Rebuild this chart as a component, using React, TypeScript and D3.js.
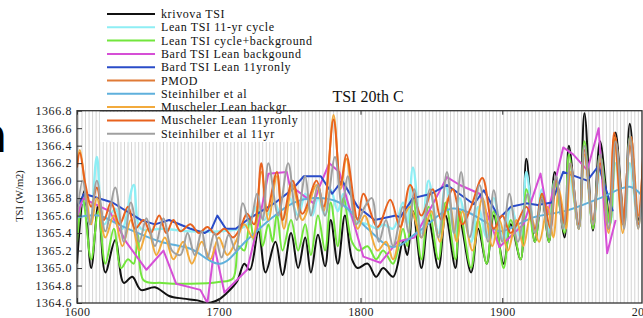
import React, { useEffect, useRef } from "react";
import * as d3 from "d3";

// [year, TSI W/m2]
const krivova: [number, number][] = [
  [1600, 1365.05], [1605, 1365.88], [1610, 1365.0], [1615, 1365.72], [1620, 1364.95], [1627, 1365.32],
  [1633, 1364.83], [1639, 1364.9], [1645, 1364.75], [1655, 1364.78], [1665, 1364.68], [1675, 1364.65],
  [1685, 1364.63], [1692, 1364.6], [1700, 1364.64], [1706, 1364.72], [1713, 1364.85], [1718, 1365.05],
  [1722, 1364.98], [1728, 1365.42], [1733, 1364.95], [1740, 1365.3], [1745, 1364.92], [1751, 1365.4],
  [1756, 1365.0], [1761, 1365.35], [1765, 1364.95], [1770, 1365.38], [1775, 1365.02], [1779, 1365.55],
  [1784, 1365.05], [1789, 1365.6], [1794, 1365.1], [1798, 1365.0], [1805, 1365.05], [1811, 1364.9],
  [1816, 1365.0], [1823, 1364.9], [1830, 1365.3], [1833, 1365.15], [1837, 1365.65], [1843, 1365.0],
  [1848, 1365.55], [1855, 1365.0], [1860, 1365.6], [1867, 1365.0], [1870, 1365.55], [1878, 1364.95],
  [1883, 1365.45], [1889, 1365.05], [1894, 1365.6], [1901, 1365.05], [1906, 1365.5], [1913, 1365.1],
  [1917, 1366.25], [1923, 1365.3], [1928, 1365.8], [1933, 1365.3], [1937, 1366.1], [1944, 1365.35],
  [1947, 1366.4], [1954, 1365.45], [1958, 1366.77], [1964, 1365.43], [1969, 1366.45], [1976, 1365.55],
  [1980, 1366.55], [1986, 1365.55], [1990, 1366.65], [1996, 1365.55], [2000, 1366.1],
];

const leanCycle: [number, number][] = [
  [1600, 1365.55], [1604, 1365.75], [1609, 1365.5], [1614, 1366.27], [1619, 1365.5], [1627, 1365.68],
  [1632, 1365.45], [1640, 1365.95], [1645, 1365.45], [1660, 1365.45], [1680, 1365.42], [1700, 1365.42],
  [1715, 1365.45], [1720, 1365.5], [1727, 1365.7], [1732, 1365.55], [1739, 1365.75], [1745, 1365.55],
  [1750, 1365.8], [1756, 1365.6], [1761, 1365.85], [1766, 1365.6], [1770, 1365.8], [1775, 1365.6],
  [1779, 1365.9], [1784, 1365.65], [1788, 1365.85], [1795, 1365.55], [1805, 1365.5], [1812, 1365.45],
  [1816, 1365.5], [1823, 1365.45], [1830, 1365.75], [1833, 1365.5], [1837, 1366.15], [1843, 1365.4],
  [1848, 1366.0], [1855, 1365.4], [1860, 1365.95], [1867, 1365.35], [1870, 1365.8], [1878, 1365.3],
  [1883, 1365.7], [1889, 1365.35], [1894, 1365.8], [1901, 1365.3], [1906, 1365.7], [1913, 1365.35],
  [1917, 1366.1], [1923, 1365.4], [1928, 1365.9], [1933, 1365.4], [1937, 1366.0], [1944, 1365.45],
  [1947, 1366.1], [1954, 1365.5], [1958, 1366.3], [1964, 1365.5], [1969, 1366.1], [1976, 1365.5],
  [1980, 1366.2], [1986, 1365.5], [1990, 1366.2], [1996, 1365.5], [2000, 1366.0],
];

const leanBackground: [number, number][] = [
  [1600, 1365.3], [1604, 1365.8], [1610, 1365.1], [1615, 1365.65], [1620, 1365.05], [1626, 1365.45],
  [1631, 1365.0], [1636, 1365.1], [1640, 1365.05], [1643, 1365.38], [1647, 1364.86], [1660, 1364.83],
  [1680, 1364.82], [1700, 1364.84], [1710, 1364.88], [1714, 1365.25], [1718, 1365.2], [1722, 1365.55],
  [1725, 1365.3], [1728, 1365.65], [1731, 1365.25], [1735, 1365.5], [1738, 1365.3], [1741, 1365.62],
  [1745, 1365.2], [1751, 1365.55], [1756, 1365.2], [1761, 1365.5], [1765, 1365.15], [1770, 1365.6],
  [1775, 1365.2], [1779, 1365.75], [1784, 1365.25], [1788, 1365.8], [1794, 1365.3], [1799, 1365.2],
  [1805, 1365.25], [1811, 1365.1], [1816, 1365.2], [1823, 1365.05], [1830, 1365.45], [1833, 1365.25],
  [1837, 1365.8], [1843, 1365.1], [1848, 1365.7], [1855, 1365.1], [1860, 1365.75], [1867, 1365.1],
  [1870, 1365.65], [1878, 1365.0], [1883, 1365.55], [1889, 1365.05], [1894, 1365.65], [1901, 1365.0],
  [1906, 1365.55], [1913, 1365.1], [1917, 1365.9], [1923, 1365.3], [1928, 1365.85], [1933, 1365.3],
  [1937, 1366.0], [1944, 1365.4], [1947, 1366.3], [1954, 1365.45], [1958, 1366.45], [1964, 1365.45],
  [1969, 1366.3], [1976, 1365.5], [1980, 1366.45], [1986, 1365.5], [1990, 1366.5], [1996, 1365.5],
  [2000, 1366.3],
];

const bardBackground: [number, number][] = [
  [1600, 1365.57], [1604, 1365.8], [1623, 1365.65], [1635, 1365.29], [1649, 1364.98], [1661, 1365.2],
  [1670, 1364.82], [1687, 1364.75], [1692, 1364.6], [1697, 1365.24], [1704, 1364.72], [1720, 1364.98],
  [1729, 1365.58], [1735, 1366.08], [1748, 1366.1], [1750, 1365.95], [1767, 1365.74], [1771, 1365.93],
  [1778, 1366.2], [1785, 1366.1], [1802, 1365.13], [1814, 1365.06], [1826, 1365.3], [1838, 1365.35],
  [1850, 1365.7], [1861, 1366.04], [1870, 1365.95], [1884, 1365.85], [1898, 1365.24], [1915, 1365.5],
  [1927, 1366.08], [1932, 1365.62], [1943, 1366.38], [1950, 1366.3], [1960, 1366.12], [1968, 1366.6],
  [1974, 1365.17], [1980, 1365.55],
];

const bard11yr: [number, number][] = [
  [1600, 1365.7], [1605, 1365.85], [1625, 1365.75], [1645, 1365.55], [1655, 1365.5], [1665, 1365.55],
  [1680, 1365.45], [1690, 1365.4], [1695, 1365.45], [1699, 1365.6], [1705, 1365.45], [1712, 1365.45],
  [1720, 1365.55], [1740, 1365.75], [1752, 1365.9], [1760, 1366.05], [1772, 1366.05], [1780, 1365.85],
  [1787, 1366.0], [1798, 1365.7], [1810, 1365.55], [1825, 1365.6], [1828, 1365.58], [1837, 1365.8],
  [1850, 1365.85], [1861, 1365.95], [1880, 1365.73], [1887, 1365.89], [1898, 1365.57], [1906, 1365.7],
  [1917, 1365.74], [1925, 1365.72], [1935, 1365.75], [1943, 1366.1], [1960, 1366.0], [1968, 1366.17],
  [1978, 1365.65],
];

const pmod: [number, number][] = [
  [1978, 1365.9], [1980, 1366.5], [1983, 1366.0], [1986, 1365.6], [1989, 1366.3], [1991, 1366.5],
  [1996, 1365.6], [2000, 1366.45],
];

const steinhilber: [number, number][] = [
  [1600, 1365.58], [1615, 1365.6], [1633, 1365.47], [1659, 1365.3], [1680, 1365.22], [1701, 1365.05],
  [1720, 1365.32], [1738, 1365.58], [1752, 1365.74], [1767, 1365.8], [1785, 1365.75], [1805, 1365.45],
  [1823, 1365.24], [1842, 1365.43], [1865, 1365.68], [1888, 1365.53], [1898, 1365.42], [1922, 1365.58],
  [1946, 1365.66], [1969, 1365.8], [1990, 1365.93], [2000, 1365.8],
];

const muschelerBackgr: [number, number][] = [
  [1600, 1366.2], [1602, 1366.35], [1606, 1365.9], [1610, 1365.5], [1614, 1365.8], [1620, 1365.35],
  [1626, 1365.6], [1632, 1365.25], [1638, 1365.55], [1644, 1365.2], [1650, 1365.45], [1656, 1365.15],
  [1662, 1365.35], [1668, 1365.1], [1675, 1365.3], [1681, 1365.05], [1688, 1365.3], [1694, 1365.1],
  [1700, 1365.35], [1706, 1365.15], [1712, 1365.3], [1718, 1365.5], [1724, 1365.35], [1730, 1366.1],
  [1735, 1365.55], [1741, 1366.05], [1746, 1365.45], [1752, 1365.95], [1759, 1365.55], [1769, 1365.95],
  [1774, 1365.65], [1781, 1366.75], [1786, 1365.9], [1790, 1366.25], [1798, 1365.45], [1803, 1365.6],
  [1812, 1365.2], [1818, 1365.3], [1823, 1365.1], [1830, 1365.55], [1835, 1365.7], [1843, 1365.35],
  [1850, 1365.65], [1856, 1365.3], [1862, 1365.8], [1868, 1365.3], [1872, 1365.65], [1879, 1365.2],
  [1886, 1365.8], [1893, 1365.25], [1898, 1365.55], [1904, 1365.2], [1910, 1365.55], [1915, 1365.25],
  [1920, 1365.6], [1926, 1365.3], [1932, 1365.7], [1936, 1365.35], [1940, 1365.9], [1945, 1365.45],
  [1948, 1366.1], [1954, 1365.45], [1958, 1366.3], [1964, 1365.5], [1969, 1366.25], [1975, 1365.4],
  [1979, 1366.5], [1985, 1365.4], [1990, 1366.45], [1996, 1365.45], [2000, 1366.5],
];

const muscheler11yr: [number, number][] = [
  [1600, 1366.15], [1602, 1366.32], [1606, 1365.95], [1610, 1365.7], [1614, 1365.92], [1619, 1365.55],
  [1624, 1365.75], [1630, 1365.5], [1636, 1365.7], [1641, 1365.45], [1647, 1365.55], [1652, 1365.4],
  [1658, 1365.6], [1663, 1365.4], [1668, 1365.55], [1673, 1365.42], [1680, 1365.5], [1686, 1365.4],
  [1692, 1365.47], [1698, 1365.38], [1704, 1365.45], [1710, 1365.35], [1715, 1365.45], [1720, 1365.62],
  [1725, 1365.5], [1730, 1366.2], [1734, 1365.65], [1741, 1366.1], [1745, 1365.55], [1752, 1366.0],
  [1759, 1365.62], [1769, 1366.0], [1774, 1365.7], [1781, 1366.7], [1786, 1365.95], [1790, 1366.3],
  [1798, 1365.55], [1802, 1365.85], [1812, 1365.47], [1821, 1365.78], [1828, 1365.47], [1835, 1365.95],
  [1843, 1365.6], [1851, 1365.9], [1857, 1365.55], [1865, 1365.9], [1872, 1365.5], [1878, 1365.7],
  [1886, 1366.03], [1894, 1365.45], [1900, 1365.6], [1906, 1365.4], [1917, 1365.7], [1923, 1365.45],
  [1928, 1365.85], [1934, 1365.45], [1938, 1366.0], [1944, 1365.5], [1948, 1366.2], [1954, 1365.5],
  [1958, 1366.35], [1964, 1365.55], [1969, 1366.2], [1975, 1365.45], [1979, 1366.55], [1985, 1365.5],
  [1990, 1366.4], [1996, 1365.5], [2000, 1366.6],
];

const steinhilber11yr: [number, number][] = [
  [1600, 1365.57], [1604, 1366.0], [1609, 1365.5], [1614, 1366.0], [1620, 1365.42], [1627, 1365.92],
  [1633, 1365.3], [1638, 1365.75], [1644, 1365.3], [1649, 1365.57], [1655, 1365.25], [1661, 1365.57],
  [1667, 1365.2], [1673, 1365.15], [1678, 1365.4], [1683, 1365.15], [1688, 1365.42], [1692, 1365.12],
  [1697, 1365.4], [1702, 1365.12], [1707, 1365.38], [1712, 1365.2], [1717, 1365.74], [1722, 1365.5],
  [1727, 1365.85], [1731, 1365.55], [1735, 1366.2], [1742, 1365.6], [1749, 1366.2], [1755, 1365.55],
  [1761, 1366.05], [1765, 1365.6], [1770, 1365.95], [1775, 1365.6], [1782, 1366.27], [1787, 1365.7],
  [1791, 1366.05], [1797, 1365.5], [1803, 1365.7], [1808, 1365.8], [1813, 1365.3], [1818, 1365.55],
  [1823, 1365.25], [1830, 1365.7], [1834, 1365.4], [1838, 1365.9], [1843, 1365.35], [1849, 1365.9],
  [1855, 1365.35], [1861, 1366.1], [1866, 1365.4], [1871, 1366.1], [1877, 1365.35], [1884, 1365.95],
  [1890, 1365.3], [1894, 1365.89], [1900, 1365.3], [1905, 1365.85], [1911, 1365.3], [1918, 1365.85],
  [1923, 1365.4], [1928, 1365.8], [1933, 1365.35], [1938, 1366.05], [1943, 1365.45], [1948, 1366.2],
  [1954, 1365.45], [1958, 1366.4], [1964, 1365.5], [1969, 1366.3], [1975, 1365.45], [1980, 1366.45],
  [1986, 1365.45], [1990, 1366.5], [1996, 1365.45], [2000, 1366.2],
];

const seriesNames = [
  "krivova TSI", "Lean TSI 11-yr cycle", "Lean TSI cycle+background", "Bard TSI Lean backgound",
  "Bard TSI Lean 11yronly", "PMOD", "Steinhilber et al", "Muscheler Lean backgr",
  "Muscheler Lean 11yronly", "Steinhilber et al 11yr",
];
const seriesData = [
  krivova, leanCycle, leanBackground, bardBackground, bard11yr,
  pmod, steinhilber, muschelerBackgr, muscheler11yr, steinhilber11yr,
];
const seriesColors = [
  "#111111", "#8eeef4", "#72e63c", "#d64fd6", "#2a4cc8",
  "#e07a36", "#5fb0dc", "#f2aa3c", "#e8621e", "#a0a0a0",
];
const linearSeries = [3, 4]; // Bard series are piecewise linear

const yTicks = [1364.6, 1364.8, 1365.0, 1365.2, 1365.4, 1365.6, 1365.8, 1366.0, 1366.2, 1366.4, 1366.6, 1366.8];
const xTicks = [1600, 1700, 1800, 1900, 2000];

const W = 643;
const H = 318;

export default function App() {
  const ref = useRef<SVGSVGElement>(null);

  useEffect(() => {
    const svg = d3.select(ref.current);
    svg.selectAll("*").remove();

    const left = 77, right = 642, top = 110.7, bottom = 303;
    const x = d3.scaleLinear().domain([1600, 2000]).range([left, right + 2]);
    const y = d3.scaleLinear().domain([1364.6, 1366.8]).range([bottom, top]);

    svg.append("rect").attr("width", W).attr("height", H).attr("fill", "#fff");

    // cut-off glyph at the left edge
    svg.append("text").attr("x", -27).attr("y", 152)
      .attr("font-family", "DejaVu Sans").attr("font-weight", "bold")
      .attr("font-size", 48).attr("fill", "#000").text("n");

    svg.append("defs").append("clipPath").attr("id", "plotclip")
      .append("rect").attr("x", left).attr("y", top).attr("width", right - left).attr("height", bottom - top);

    // dense vertical stripes
    svg.append("g").selectAll("line")
      .data(d3.range(1601, 2000, 2.5))
      .join("line")
      .attr("x1", d => x(d)).attr("x2", d => x(d))
      .attr("y1", top).attr("y2", bottom)
      .attr("stroke", "#d4d4d4").attr("stroke-width", 1);

    const g = svg.append("g").attr("clip-path", "url(#plotclip)");
    seriesData.forEach((data, i) => {
      const line = d3.line<[number, number]>()
        .x(d => x(d[0]))
        .y(d => y(d[1]))
        .curve(linearSeries.includes(i) ? d3.curveLinear : d3.curveCatmullRom.alpha(0.5));
      g.append("path")
        .datum(data)
        .attr("fill", "none")
        .attr("stroke", seriesColors[i])
        .attr("stroke-width", i === 1 ? 2.4 : 2)
        .attr("stroke-linejoin", "round")
        .attr("d", line);
    });

    // frame
    svg.append("rect").attr("x", left).attr("y", top).attr("width", right - left).attr("height", bottom - top)
      .attr("fill", "none").attr("stroke", "#333").attr("stroke-width", 1.3);

    // y axis, ticks inward
    const yAxis = d3.axisLeft(y).tickValues(yTicks).tickFormat(d3.format(".1f")).tickSizeInner(-5).tickSizeOuter(0).tickPadding(5);
    const ya = svg.append("g").attr("transform", `translate(${left},0)`).call(yAxis);
    ya.select(".domain").remove();
    ya.selectAll("line").attr("stroke", "#333");
    ya.selectAll("text").attr("font-family", "Liberation Serif").attr("font-size", 12)
      .attr("letter-spacing", 0.6).attr("fill", "#222");

    // x axis, ticks inward top and bottom
    const xa = svg.append("g").attr("transform", `translate(0,${bottom})`)
      .call(d3.axisBottom(x).tickValues(xTicks).tickFormat(d3.format("d")).tickSizeInner(-5).tickSizeOuter(0).tickPadding(4));
    xa.select(".domain").remove();
    xa.selectAll("line").attr("stroke", "#333");
    xa.selectAll("text").attr("font-family", "Liberation Serif").attr("font-size", 12)
      .attr("letter-spacing", 0.4).attr("fill", "#222");
    const xt = svg.append("g").attr("transform", `translate(0,${top})`)
      .call(d3.axisTop(x).tickValues(xTicks).tickFormat(() => "").tickSizeInner(-4).tickSizeOuter(0));
    xt.select(".domain").remove();
    xt.selectAll("line").attr("stroke", "#333");

    // y label
    svg.append("text")
      .attr("transform", "translate(23,196) rotate(-90)")
      .attr("text-anchor", "middle")
      .attr("font-family", "Liberation Serif").attr("font-size", 10.5).attr("fill", "#222")
      .text("TSI (W/m2)");

    // title
    svg.append("text").attr("x", 368).attr("y", 102).attr("text-anchor", "middle")
      .attr("font-family", "Liberation Serif").attr("font-size", 16).attr("fill", "#111")
      .text("TSI 20th C");

    // legend
    svg.append("rect").attr("x", 100).attr("y", 112).attr("width", 200).attr("height", 30).attr("fill", "#fff");
    svg.append("line").attr("x1", 100).attr("x2", 300).attr("y1", top).attr("y2", top)
      .attr("stroke", "#333").attr("stroke-width", 1.3);
    const lg = svg.append("g");
    seriesNames.forEach((name, i) => {
      const yy = 14 + i * 13.3;
      lg.append("line").attr("x1", 107).attr("x2", 155).attr("y1", yy).attr("y2", yy)
        .attr("stroke", seriesColors[i]).attr("stroke-width", 2);
      lg.append("text").attr("x", 161).attr("y", yy + 4)
        .attr("font-family", "Liberation Serif").attr("font-size", 12).attr("letter-spacing", 0.6)
        .attr("fill", "#111")
        .text(name);
    });
  }, []);

  return (
    <svg ref={ref} width={W} height={H} style={{ position: "absolute", left: 0, top: 0, display: "block" }} />
  );
}
